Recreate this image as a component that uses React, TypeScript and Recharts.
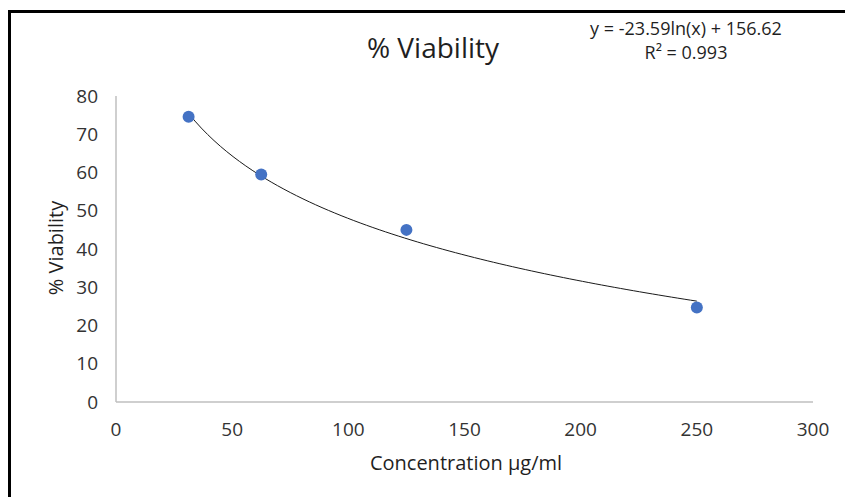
import React from "react";
import { ScatterChart, Scatter, XAxis, YAxis } from "recharts";

// ---- data ----
const concentrations = [31.25, 62.5, 125, 250];
const viability = [74.6, 59.5, 45.0, 24.7];
const xTicks = [0, 50, 100, 150, 200, 250, 300];
const yTicks = [0, 10, 20, 30, 40, 50, 60, 70, 80];
// logarithmic trendline shown on the chart: y = -23.59 ln(x) + 156.62
const trendSlope = -23.59;
const trendIntercept = 156.62;
const trendLabel = "y = -23.59ln(x) + 156.62";
const r2Label = "R² = 0.993";
const chartTitle = "% Viability";
const xTitle = "Concentration µg/ml";
const yTitle = "% Viability";

const points = concentrations.map((c, i) => ({ x: c, y: viability[i] }));

const trendSteps = 80;
const xMin = concentrations[0];
const xMax = concentrations[concentrations.length - 1];
const trend = Array.from({ length: trendSteps + 1 }, (_, i) => {
  const x = xMin + ((xMax - xMin) * i) / trendSteps;
  return { x, y: trendSlope * Math.log(x) + trendIntercept };
});

const FONT = "'Open Sans', sans-serif";
const TEXT = "#333333";

const NoShape = () => <g />;
const Dot = (props: any) => {
  const { cx, cy } = props;
  if (cx == null || cy == null) return <g />;
  return <circle cx={cx} cy={cy} r={6} fill="#4472c4" />;
};

export default function App() {
  return (
    <div style={{ position: "absolute", left: 0, top: 0, width: 845, height: 497, background: "#fff", fontFamily: FONT }}>
      <div
        style={{
          position: "absolute",
          left: 8,
          top: 10,
          width: 845,
          height: 497,
          borderLeft: "3px solid #000",
          borderTop: "3px solid #000",
          boxSizing: "border-box",
        }}
      />
      <div style={{ position: "absolute", left: 0, top: 0 }}>
        <ScatterChart width={845} height={497} margin={{ top: 96, right: 32, bottom: 0, left: 0 }}>
          <XAxis
            type="number"
            dataKey="x"
            domain={[0, 300]}
            ticks={xTicks}
            height={95}
            axisLine={{ stroke: "#bfbfbf", strokeWidth: 1.5 }}
            tickLine={false}
            tickSize={0}
            tickMargin={21}
            tick={{ fill: TEXT, fontSize: 19, fontFamily: FONT }}
            interval={0}
          />
          <YAxis
            type="number"
            dataKey="y"
            domain={[0, 80]}
            ticks={yTicks}
            width={116}
            axisLine={{ stroke: "#bfbfbf", strokeWidth: 1.5 }}
            tickLine={false}
            tickSize={0}
            tickMargin={18}
            tick={{ fill: TEXT, fontSize: 19, fontFamily: FONT }}
            interval={0}
          />
          <Scatter
            data={trend}
            line={{ stroke: "#1a1a1a", strokeWidth: 1 }}
            shape={NoShape}
            isAnimationActive={false}
          />
          <Scatter data={points} fill="#4472c4" shape={Dot} isAnimationActive={false} />
        </ScatterChart>
      </div>
      <svg width={845} height={497} style={{ position: "absolute", left: 0, top: 0, pointerEvents: "none" }}>
        <text x={433} y={58} textAnchor="middle" fontSize={28} fill="#1f1f1f" fontFamily={FONT}>
          {chartTitle}
        </text>
        <text x={686} y={35} textAnchor="middle" fontSize={18} fill="#1f1f1f" fontFamily={FONT}>
          {trendLabel}
        </text>
        <text x={686} y={59} textAnchor="middle" fontSize={18} fill="#1f1f1f" fontFamily={FONT}>
          {r2Label}
        </text>
        <text x={466} y={470} textAnchor="middle" fontSize={20} fill="#1f1f1f" fontFamily={FONT}>
          {xTitle}
        </text>
        <text
          x={63}
          y={248}
          textAnchor="middle"
          fontSize={20}
          fill="#1f1f1f"
          fontFamily={FONT}
          transform="rotate(-90 63 248)"
        >
          {yTitle}
        </text>
      </svg>
    </div>
  );
}
